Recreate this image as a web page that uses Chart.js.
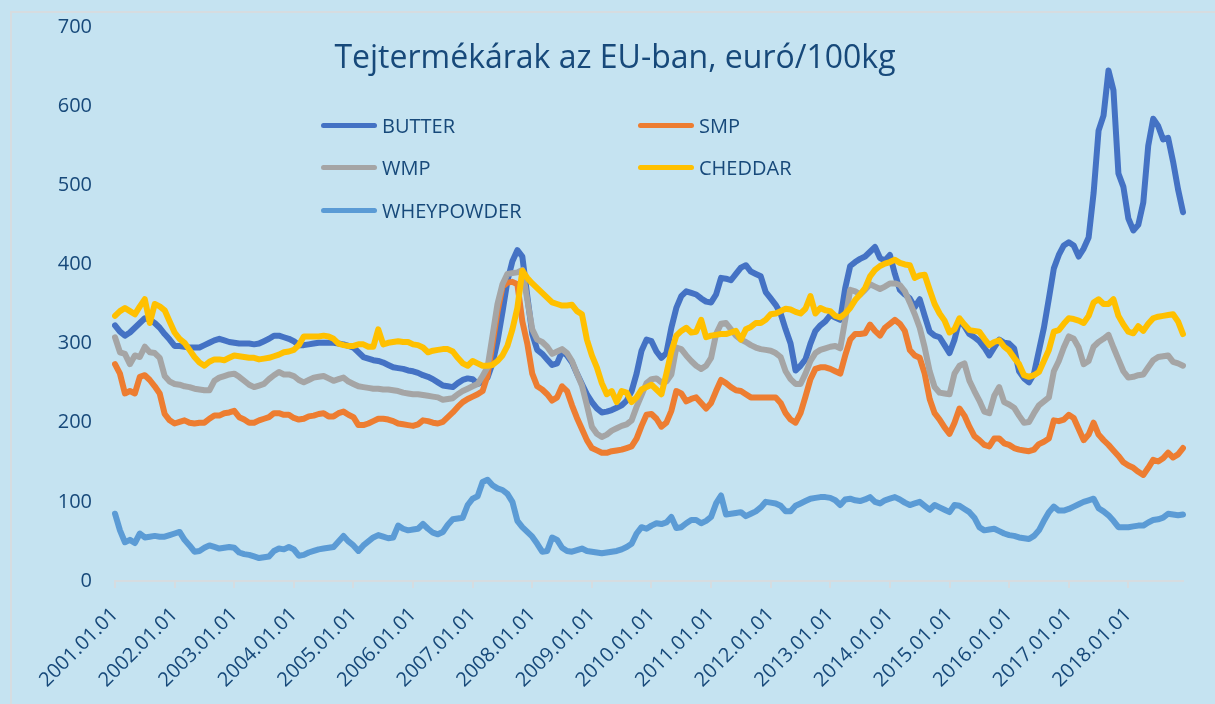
<!DOCTYPE html>
<html>
<head>
<meta charset="utf-8">
<script src="https://cdn.jsdelivr.net/npm/chart.js@4/dist/chart.umd.min.js"></script>
<style>
  html, body { margin: 0; padding: 0; background: #C5E3F1; overflow: hidden; }
  #wrap { position: relative; width: 1215px; height: 704px; font-family: "Open Sans", sans-serif; color: #17497A; }
  #frame { position: absolute; left: 10px; top: 11px; width: 1220px; height: 700px; border-top: 2px solid #D6DCE0; border-left: 2px solid #D6DCE0; }
  #chart { position: absolute; left: 0; top: 0; }
  #title { position: absolute; top: 40px; left: 615px; transform: translateX(-50%); font-size: 32px; line-height: 32px; white-space: nowrap; }
  .item { position: absolute; height: 30px; display: flex; align-items: center; font-size: 20px; white-space: nowrap; }
  .item span.swatch { display: inline-block; width: 56px; height: 5px; border-radius: 3px; margin-right: 5px; }
</style>
</head>
<body>
<div id="wrap">
  <div id="frame"></div>
  <canvas id="chart" width="1215" height="704"></canvas>
  <div id="title">Tejtermékárak az EU-ban, euró/100kg</div>
  <div id="legend"></div>
</div>
<script>
// Monthly prices, 2001.01 - 2018.12, euró/100kg ----------------------------------
var years = [2001, 2018];

var butter = [
  323, 315, 310, 314, 320, 326, 332, 330, 326, 320, 312, 305,
  297, 297, 296, 295, 295, 295, 298, 301, 304, 306, 304, 302,
  301, 300, 300, 300, 299, 300, 303, 306, 310, 310, 308, 306,
  303, 298, 298, 299, 300, 301, 301, 301, 301, 300, 299, 297,
  295, 289, 283, 281, 279, 278, 276, 273, 270, 269, 268, 266,
  265, 263, 260, 258, 255, 251, 247, 246, 245, 250, 254, 256,
  255, 249, 252, 257, 275, 303, 340, 379, 404, 418, 410, 360,
  312, 292, 287, 280, 273, 275, 290, 285, 276, 262, 249, 236,
  226, 218, 213, 214, 216, 219, 222, 228, 240, 262, 291, 305,
  303, 290, 282, 288, 320, 345, 360, 366, 364, 362, 357, 353,
  352, 362, 383, 382, 380, 388, 396, 399, 391, 388, 385, 365,
  357, 349, 338, 318, 300, 266, 272, 280, 300, 316, 323, 328,
  336, 333, 330, 370, 398, 403, 407, 410, 416, 422, 408, 405,
  412, 388, 368, 362, 357, 346, 356, 335, 315, 310, 308, 298,
  288, 305, 330, 322, 312, 308, 303, 295, 285, 295, 305, 301,
  300, 294, 265, 256, 251, 262, 291, 320, 357, 395, 412, 424,
  428, 424, 410, 420, 434, 490, 569, 588, 645, 620, 515, 498,
  458, 443, 450, 478, 550, 584, 575, 558, 560, 530, 495, 466
];

var smp = [
  274, 262, 237, 240, 237, 258, 260, 254, 246, 237, 211, 203,
  199, 201, 203, 200, 199, 200, 200, 205, 209, 209, 212, 213,
  215, 207, 204, 200, 200, 203, 205, 207, 212, 212, 210, 210,
  206, 204, 205, 208, 209, 211, 212, 208, 208, 212, 214, 210,
  207, 197, 197, 199, 202, 205, 205, 204, 202, 199, 198, 197,
  196, 198, 203, 202, 200, 199, 201, 207, 213, 220, 226, 230,
  233, 236, 240, 260, 300, 340, 372, 377, 378, 375, 328, 300,
  262, 246, 242, 236, 228, 232, 246, 240, 222, 206, 192, 178,
  168, 165, 162, 162, 164, 165, 166, 168, 170, 180, 196, 210,
  211, 205, 195, 200, 215, 240, 237, 227, 230, 232, 225, 218,
  225, 240, 254, 250, 245, 241, 240, 236, 232, 232, 232, 232,
  232, 232, 225, 212, 204, 200, 212, 233, 255, 268, 270, 270,
  268, 265, 262, 285, 305, 312, 312, 313, 324, 316, 310, 320,
  325, 330, 325, 316, 292, 285, 282, 262, 230, 212, 204, 194,
  186, 200, 218, 209, 195, 183, 178, 172, 170, 180, 180, 174,
  172, 168, 166, 165, 164, 166, 173, 176, 180, 203, 202, 204,
  210, 206, 192, 178, 185, 200, 185, 178, 172, 165, 158, 150,
  146, 143, 138, 134, 143, 153, 151, 155, 162, 156, 160, 168
];

var wmp = [
  308, 289, 287, 274, 285, 283, 296, 289, 288, 282, 259, 252,
  249, 248, 246, 245, 243, 242, 241, 241, 253, 257, 259, 261,
  262, 258, 253, 248, 245, 247, 249, 255, 260, 264, 261, 261,
  259, 254, 251, 254, 257, 258, 259, 256, 253, 255, 257, 252,
  249, 246, 245, 244, 243, 243, 242, 242, 241, 240, 238, 237,
  236, 236, 235, 234, 233, 232, 229, 230, 231, 236, 240, 243,
  246, 249, 259, 270, 310, 350, 375, 388, 389, 390, 393, 355,
  318, 305, 302, 296, 287, 290, 293, 288, 278, 262, 247, 222,
  195, 186, 182, 185, 190, 193, 196, 198, 203, 220, 235, 250,
  255, 256, 251, 252, 261, 295, 293, 285, 278, 272, 268, 272,
  282, 312, 325, 326, 318, 310, 305, 302, 298, 295, 293, 292,
  291, 288, 283, 265, 255, 249, 249, 262, 278, 288, 292, 294,
  296, 297, 294, 330, 368, 366, 362, 368, 375, 372, 369, 372,
  376, 376, 374, 366, 352, 337, 320, 295, 265, 245, 238, 237,
  236, 262, 272, 275, 253, 240, 228, 214, 212, 234, 245, 226,
  223, 219, 209, 200, 201, 212, 222, 227, 232, 265, 278, 295,
  309, 306, 295, 274, 278, 296, 302, 306, 311, 295, 280, 265,
  257, 258, 260, 261, 270, 279, 283, 284, 285, 277, 275, 272
];

var cheddar = [
  335, 341, 345, 341, 337, 347, 356, 326, 350, 347, 342, 328,
  314, 306, 301, 292, 283, 276, 272, 277, 280, 280, 279, 282,
  285, 284, 283, 282, 282, 280, 281, 282, 284, 286, 289, 290,
  292, 298, 309, 309, 309, 309, 310, 309, 306, 300, 298, 297,
  297, 299, 299, 296, 296, 318, 299, 301, 302, 303, 302, 302,
  299, 298, 295, 289, 291, 292, 293, 293, 290, 282, 275, 272,
  278, 275, 272, 272, 273, 278, 285, 297, 318, 345, 392, 383,
  376, 370, 364, 358, 352, 350, 348, 348, 349, 341, 337, 305,
  285, 270, 250, 236, 240, 226, 240, 238, 226, 232, 242, 245,
  248, 242, 236, 262, 290, 310, 316, 320, 314, 315, 330, 308,
  310, 311, 312, 312, 314, 316, 305, 318, 321, 326, 326, 330,
  337, 338, 341, 344, 343, 340, 338, 344, 360, 338, 345, 342,
  341, 335, 333, 338, 345, 355, 362, 370, 385, 393, 398, 401,
  403, 406, 402, 400, 399, 383, 386, 387, 368, 350, 338, 329,
  314, 318, 332, 324, 317, 316, 315, 306, 298, 302, 304, 296,
  291, 282, 274, 260, 258, 260, 264, 278, 292, 315, 317, 325,
  332, 331, 329, 326, 335, 352, 356, 350, 350, 356, 335, 324,
  315, 313, 322, 316, 325, 332, 334, 335, 336, 337, 328, 312
];

var wheypowder = [
  85, 64, 49, 52, 48, 60, 55, 56, 57, 56, 56, 58,
  60, 62, 52, 45, 37, 38, 42, 45, 43, 41, 42, 43,
  42, 36, 34, 33, 31, 29, 30, 31, 38, 41, 40, 43,
  40, 32, 33, 36, 38, 40, 41, 42, 43, 50, 57, 50,
  45, 38, 45, 50, 55, 58, 56, 54, 55, 70, 66, 64,
  65, 66, 72, 66, 61, 59, 62, 71, 78, 79, 80, 96,
  104, 107, 125, 128, 121, 117, 115, 110, 100, 76, 68, 62,
  56, 47, 37, 38, 55, 52, 42, 38, 37, 39, 41, 38,
  37, 36, 35, 36, 37, 38, 40, 43, 47, 60, 68, 66,
  70, 73, 72, 74, 81, 67, 68, 73, 77, 77, 73, 76,
  81, 98, 108, 84, 85, 86, 87, 82, 85, 88, 93, 100,
  99, 98, 95, 88, 88, 95, 98, 101, 104, 105, 106, 106,
  105, 102, 96, 103, 104, 102, 101, 103, 106, 100, 98, 102,
  104, 106, 103, 99, 96, 98, 100, 95, 90, 96, 93, 90,
  87, 96, 95, 91, 87, 80, 68, 64, 65, 66, 63, 60,
  58, 57, 55, 54, 53, 57, 64, 76, 87, 94, 89, 89,
  91, 94, 97, 100, 102, 104, 92, 88, 83, 76, 68, 68,
  68, 69, 70, 70, 74, 77, 78, 80, 85, 84, 83, 84
];

var seriesNames = ["BUTTER", "SMP", "WMP", "CHEDDAR", "WHEYPOWDER"];
var seriesColors = ["#4472C4", "#ED7D31", "#A5A5A5", "#FFC000", "#5B9BD5"];
var yTicks = [0, 100, 200, 300, 400, 500, 600, 700];

// Month labels like 2001.01.01 ----------
var labels = [];
for (var y = years[0]; y <= years[1]; y++) {
    for (var m = 1; m <= 12; m++) {
        labels.push(y + "." + (m < 10 ? "0" + m : m) + ".01");
    }
}

var textColor = "#17497A";
var values = [butter, smp, wmp, cheddar, wheypowder];

var datasets = values.map(function (v, i) {
    return {
        label: seriesNames[i],
        data: v,
        borderColor: seriesColors[i],
        backgroundColor: seriesColors[i],
        borderWidth: 6,
        pointRadius: 0,
        tension: 0,
        borderJoinStyle: "round",
        borderCapStyle: "round",
        order: 5 - i   // later series drawn on top, like the original
    };
});

var ctx = document.getElementById("chart").getContext("2d");

var chart = new Chart(ctx, {
    type: "line",
    data: { labels: labels, datasets: datasets },
    options: {
        responsive: false,
        animation: false,
        devicePixelRatio: 1,
        events: [],
        layout: { padding: { left: 0, top: 27, right: 32, bottom: 0 } },
        plugins: {
            legend: { display: false },
            title: { display: false },
            tooltip: { enabled: false }
        },
        scales: {
            x: {
                type: "category",
                offset: false,
                grid: {
                    drawOnChartArea: false,
                    drawTicks: true,
                    tickLength: 7,
                    color: "#D6DCE0",
                    lineWidth: 2
                },
                border: { display: true, color: "#D6DCE0", width: 2 },
                ticks: {
                    autoSkip: false,
                    minRotation: 45,
                    maxRotation: 45,
                    padding: 15,
                    color: textColor,
                    font: { family: "Open Sans", size: 20 },
                    callback: function (val, idx) {
                        var l = this.getLabelForValue(val);
                        return l.substr(5, 2) === "01" ? l : null;
                    }
                },
                afterFit: function (scale) { scale.height = 123; }
            },
            y: {
                min: yTicks[0],
                max: yTicks[yTicks.length - 1],
                // hidden grid; tick length only sets the gap between labels and plot
                grid: { display: false, drawTicks: true, tickLength: 23 },
                border: { display: false },
                afterBuildTicks: function (scale) {
                    scale.ticks = yTicks.map(function (t) { return { value: t }; });
                },
                ticks: {
                    padding: 0,
                    color: textColor,
                    font: { family: "Open Sans", size: 20 }
                },
                afterFit: function (scale) { scale.width = 115; }
            }
        }
    }
});

// Legend in two columns inside the plot ----------
var legendCols = [321, 638];
var legendRows = [125, 167, 210];
var legend = document.getElementById("legend");
chart.data.datasets.forEach(function (ds, i) {
    var item = document.createElement("div");
    item.className = "item";
    item.style.left = legendCols[i % 2] + "px";
    item.style.top = (legendRows[Math.floor(i / 2)] - 15) + "px";
    item.innerHTML = '<span class="swatch" style="background:' + ds.borderColor + '"></span>' + ds.label;
    legend.appendChild(item);
});
</script>
</body>
</html>
